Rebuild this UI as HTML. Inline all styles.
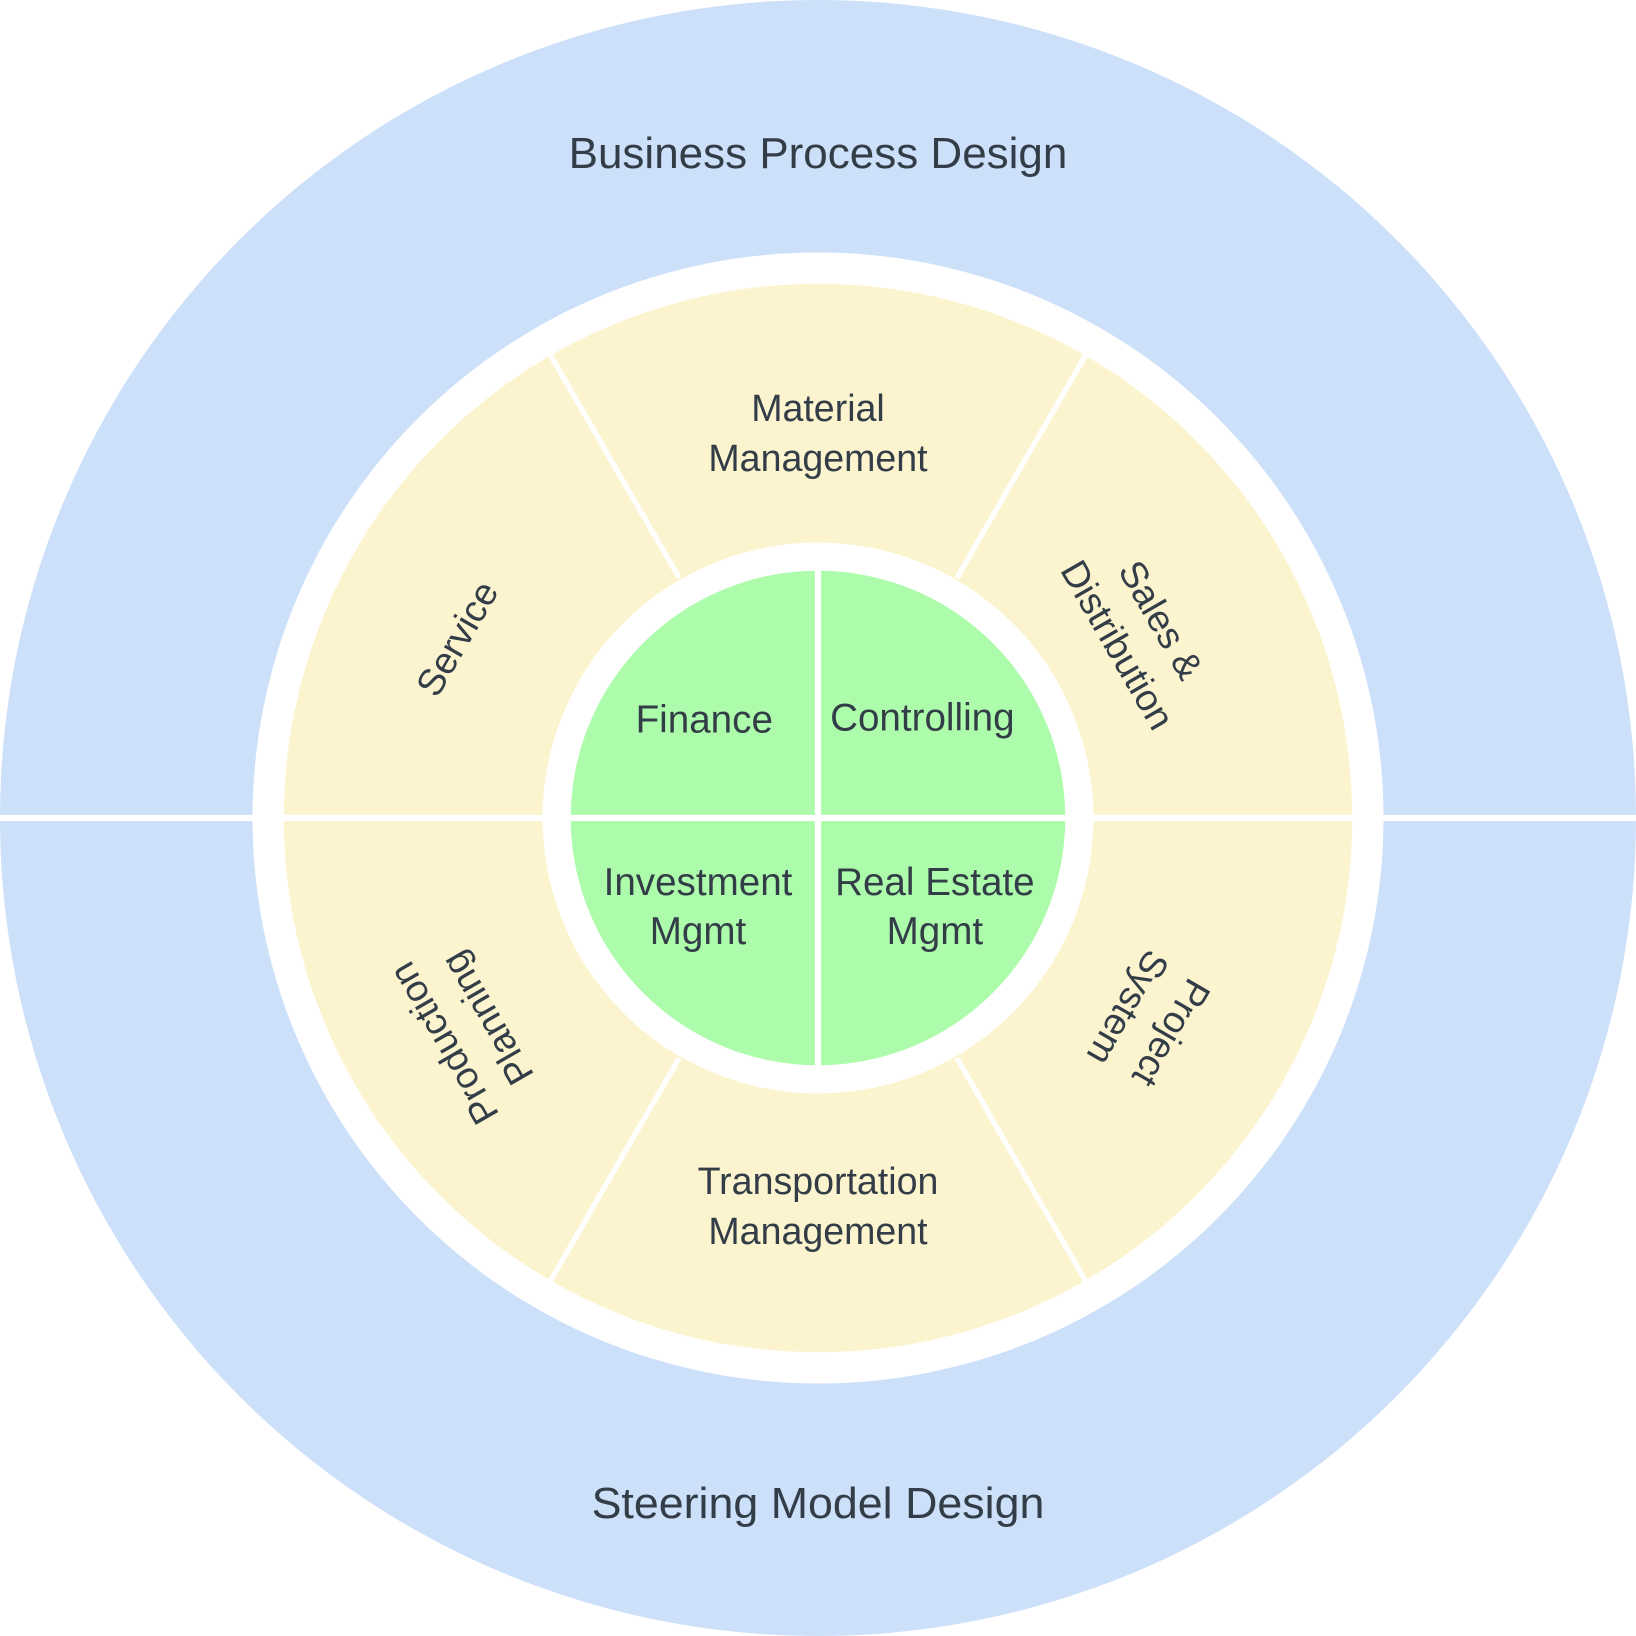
<!DOCTYPE html>
<html><head><meta charset="utf-8"><style>
html,body{margin:0;padding:0;background:#fff}
svg{display:block}
text{font-family:"Liberation Sans","DejaVu Sans",sans-serif;fill:#333d47;text-anchor:middle;dominant-baseline:central}
</style></head><body>
<svg width="1636" height="1636" viewBox="0 0 1568 1568" xmlns="http://www.w3.org/2000/svg">
<rect width="1568" height="1568" fill="#fff"/>
<circle cx="784" cy="784" r="784" fill="#cce0fa"/>
<circle cx="784" cy="784" r="542" fill="#fff"/>
<circle cx="784" cy="784" r="512" fill="#fcf4cf"/>
<circle cx="784" cy="784" r="264" fill="#fff"/>
<circle cx="784" cy="784" r="237" fill="#adfcab"/>
<g stroke="#fff" stroke-width="6">
<line x1="0" y1="784" x2="1568" y2="784"/>
<line x1="784" y1="540" x2="784" y2="1030"/>
<g stroke-width="5">
<line x1="651" y1="554" x2="525" y2="336"/>
<line x1="917" y1="554" x2="1043" y2="336"/>
<line x1="651" y1="1014" x2="525" y2="1232"/>
<line x1="917" y1="1014" x2="1043" y2="1232"/>
</g>
</g>
<text x="784" y="147" font-size="42" textLength="478" lengthAdjust="spacingAndGlyphs">Business Process Design</text>
<text x="784" y="1441" font-size="42" textLength="434" lengthAdjust="spacingAndGlyphs">Steering Model Design</text>
<g font-size="36">
<text x="784" y="391">Material</text>
<text x="784" y="439">Management</text>
<text x="784" y="1132">Transportation</text>
<text x="784" y="1180">Management</text>
<text transform="translate(438,612) rotate(-60)">Service</text>
<g transform="translate(1092,606) rotate(60)"><text y="-24">Sales &amp;</text><text y="24">Distribution</text></g>
<g transform="translate(446,988) rotate(240)"><text y="-24">Production</text><text y="24">Planning</text></g>
<g transform="translate(1102,978) rotate(120)"><text y="-24">Project</text><text y="24">System</text></g>
</g>
<g font-size="37">
<text x="675" y="690">Finance</text>
<text x="884" y="688">Controlling</text>
<text x="669" y="846">Investment</text>
<text x="669" y="893">Mgmt</text>
<text x="896" y="846">Real Estate</text>
<text x="896" y="893">Mgmt</text>
</g>
</svg>
</body></html>
